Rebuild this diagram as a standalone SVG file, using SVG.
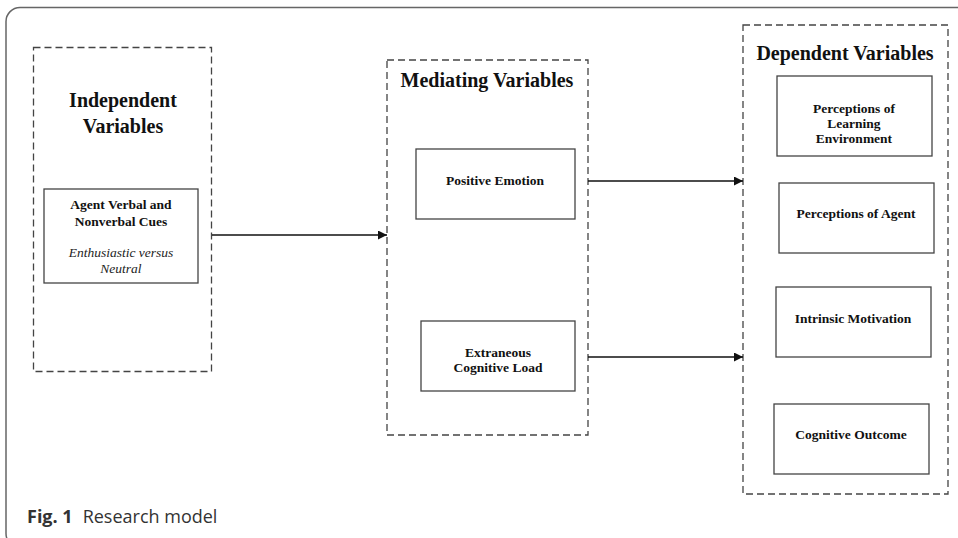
<svg xmlns="http://www.w3.org/2000/svg" width="958" height="538" viewBox="0 0 958 538">
<style>
.frame{fill:none;stroke:#666;stroke-width:1.5}
.group{fill:none;stroke:#444;stroke-width:1.3;stroke-dasharray:7,4}
.box{fill:#fff;stroke:#444;stroke-width:1.3}
.title{font-family:"Liberation Serif",serif;font-weight:bold;font-size:20px;fill:#111;text-anchor:middle}
.lbl{font-family:"Liberation Serif",serif;font-weight:bold;font-size:13.5px;fill:#111;text-anchor:middle}
.it{font-family:"Liberation Serif",serif;font-style:italic;font-size:13.5px;fill:#222;text-anchor:middle}
.edge{stroke:#111;stroke-width:1.3;fill:none}
.cap{font-family:"Open Sans","Noto Sans",sans-serif;font-size:18px;fill:#333}
</style>
<defs>
<marker id="ah" viewBox="0 0 10 10" refX="10" refY="5" markerWidth="11" markerHeight="9" markerUnits="userSpaceOnUse" orient="auto">
<path d="M0,0 L10,5 L0,10 z" fill="#111"/>
</marker>
</defs>
<rect class="frame" x="6" y="7.5" width="1000" height="540" rx="14"/>

<g id="independent">
<rect class="group" x="33.5" y="47.5" width="178" height="324"/>
<text class="title" x="123" y="107">Independent</text>
<text class="title" x="123" y="133">Variables</text>
</g>
<g id="agent-cues">
<rect class="box" x="44" y="189" width="154" height="94"/>
<text class="lbl" x="121" y="209">Agent Verbal and</text>
<text class="lbl" x="121" y="226">Nonverbal Cues</text>
<text class="it" x="121" y="257">Enthusiastic versus</text>
<text class="it" x="121" y="273">Neutral</text>
</g>

<g id="mediating">
<rect class="group" x="387" y="60" width="201" height="375"/>
<text class="title" x="487" y="87">Mediating Variables</text>
</g>
<g id="positive-emotion">
<rect class="box" x="416" y="149" width="159" height="70"/>
<text class="lbl" x="495" y="185">Positive Emotion</text>
</g>
<g id="extraneous-load">
<rect class="box" x="421" y="321" width="154" height="70"/>
<text class="lbl" x="498" y="357">Extraneous</text>
<text class="lbl" x="498" y="372">Cognitive Load</text>
</g>

<g id="dependent">
<rect class="group" x="743" y="25" width="205" height="469"/>
<text class="title" x="845" y="60">Dependent Variables</text>
</g>
<g id="perceptions-learning">
<rect class="box" x="777" y="76" width="155" height="80"/>
<text class="lbl" x="854" y="113">Perceptions of</text>
<text class="lbl" x="854" y="128">Learning</text>
<text class="lbl" x="854" y="143">Environment</text>
</g>
<g id="perceptions-agent">
<rect class="box" x="779" y="183" width="155" height="70"/>
<text class="lbl" x="856" y="218">Perceptions of Agent</text>
</g>
<g id="intrinsic-motivation">
<rect class="box" x="776" y="287" width="155" height="70"/>
<text class="lbl" x="853" y="323">Intrinsic Motivation</text>
</g>
<g id="cognitive-outcome">
<rect class="box" x="774" y="404" width="155" height="70"/>
<text class="lbl" x="851" y="439">Cognitive Outcome</text>
</g>

<g id="connectors">
<line class="edge" x1="212" y1="235" x2="387" y2="235" marker-end="url(#ah)"/>
<line class="edge" x1="588" y1="181" x2="743" y2="181" marker-end="url(#ah)"/>
<line class="edge" x1="588" y1="357" x2="743" y2="357" marker-end="url(#ah)"/>
</g>

<text class="cap" x="27" y="523"><tspan font-weight="bold">Fig. 1</tspan><tspan dx="10">Research model</tspan></text>
</svg>
